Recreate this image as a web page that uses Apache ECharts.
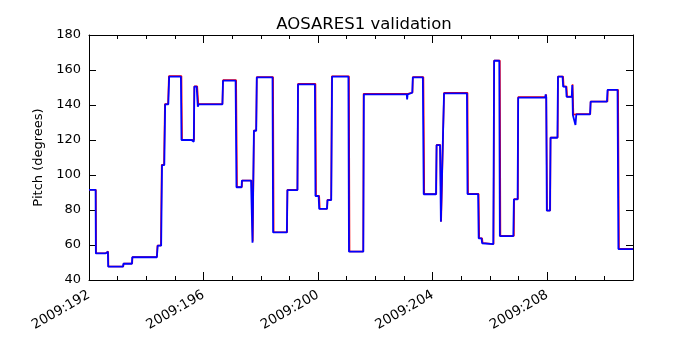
<!DOCTYPE html>
<html><head><meta charset="utf-8">
<script src="https://cdn.jsdelivr.net/npm/echarts@6/dist/echarts.min.js"></script>
<style>html,body{margin:0;padding:0;background:#fff}#c{width:700px;height:350px}</style>
</head><body><div id="c"></div>
<script>
const chartTitle = 'AOSARES1 validation';
const yAxisName = 'Pitch (degrees)';
const yearLabel = '2009';
const xMin = 192, xMax = 211, xMajor = 4;
const yMin = 40, yMax = 180, yStep = 20;

// blue: actual pitch [day of year, degrees]
const blueData = [
[192.00,91.5],[192.23,91.5],
[192.24,55.2],[192.58,55.2],[192.60,56.2],[192.66,56.2],
[192.67,47.6],[193.19,47.6],
[193.20,49.3],[193.50,49.3],
[193.51,53.0],[194.37,53.0],
[194.40,59.6],[194.52,59.6],
[194.55,105.7],[194.63,105.7],
[194.66,140.4],[194.77,140.4],
[194.80,156.2],[195.21,156.2],
[195.23,120.0],[195.58,120.0],[195.62,119.0],[195.66,119.0],
[195.68,150.5],[195.76,150.5],
[195.80,139.0],[195.83,140.4],[196.66,140.4],
[196.68,153.9],[197.12,153.9],
[197.15,93.0],[197.33,93.0],
[197.34,96.8],[197.66,96.8],
[197.71,61.3],
[197.76,125.3],[197.84,125.3],
[197.86,155.8],[198.41,155.8],
[198.43,67.2],[198.91,67.2],
[198.93,91.4],[199.28,91.4],
[199.30,151.8],[199.89,151.8],
[199.91,88.0],[200.02,88.0],
[200.04,80.6],[200.31,80.6],
[200.33,85.7],[200.46,85.7],
[200.49,156.2],[201.06,156.2],
[201.08,56.2],[201.58,56.2],
[201.60,146.1],[203.10,146.1],[203.11,143.2],[203.13,146.1],[203.16,147.0],[203.29,147.0],
[203.31,155.8],[203.66,155.8],
[203.69,89.0],[204.12,89.0],
[204.14,117.1],[204.26,117.1],
[204.29,73.3],[204.33,73.3],
[204.40,146.7],[205.20,146.7],
[205.22,89.1],[205.59,89.1],
[205.61,63.8],[205.71,63.8],
[205.73,61.0],[205.76,60.3],[206.12,60.5],
[206.15,165.3],[206.33,165.3],
[206.35,65.1],[206.82,65.1],
[206.84,86.1],[206.97,86.1],
[206.99,144.2],[207.93,144.2],[207.95,146.0],[207.97,144.5],
[207.99,79.6],[208.10,79.6],
[208.12,121.3],[208.36,121.3],
[208.38,156.2],[208.54,156.2],
[208.56,150.5],[208.66,150.5],
[208.68,144.7],[208.86,144.7],[208.88,151.4],[208.90,134.3],[208.96,134.3],[208.99,128.6],[209.02,134.7],[209.50,134.7],
[209.52,141.9],[210.09,141.9],
[210.11,148.6],[210.46,148.6],
[210.49,57.7],[211.00,57.7]
];

// red: commanded pitch [day of year, degrees]
const redData = [
[192.00,91.6],[192.24,91.6],
[192.25,55.3],[192.59,55.3],[192.61,56.3],[192.67,56.3],
[192.68,47.7],[193.20,47.7],
[193.21,49.4],[193.51,49.4],
[193.52,53.1],[194.37,53.1],
[194.39,59.7],[194.51,59.7],
[194.54,105.8],[194.62,105.8],
[194.65,140.5],[194.76,140.5],
[194.79,156.6],[195.23,156.6],
[195.25,120.1],[195.67,120.1],
[195.68,150.7],[195.78,150.7],
[195.82,140.5],[196.66,140.5],
[196.68,154.2],[197.14,154.2],
[197.17,93.1],[197.34,93.1],
[197.35,96.9],[197.68,96.9],
[197.72,62.0],
[197.76,125.4],[197.84,125.4],
[197.86,156.0],[198.43,156.0],
[198.45,67.3],[198.92,67.3],
[198.93,91.5],[199.28,91.5],
[199.30,152.1],[199.91,152.1],
[199.93,88.1],[200.04,88.1],
[200.06,80.7],[200.32,80.7],
[200.33,85.8],[200.46,85.8],
[200.48,156.4],[201.08,156.4],
[201.10,56.3],[201.58,56.3],
[201.59,146.4],[203.14,146.4],[203.17,147.2],[203.30,147.2],
[203.31,156.0],[203.68,156.0],
[203.71,89.1],[204.13,89.1],
[204.14,117.2],[204.27,117.2],
[204.30,73.4],[204.35,73.4],
[204.40,147.0],[205.22,147.0],
[205.24,89.2],[205.61,89.2],
[205.63,63.9],[205.73,63.9],
[205.75,61.1],[205.78,60.4],[206.13,60.6],
[206.15,165.4],[206.35,165.4],
[206.37,65.2],[206.84,65.2],
[206.85,86.2],[206.98,86.2],
[206.99,144.5],[207.95,144.5],[207.97,146.0],
[208.00,79.7],[208.11,79.7],
[208.12,121.4],[208.37,121.4],
[208.38,156.3],[208.56,156.3],
[208.58,150.6],[208.68,150.6],
[208.70,144.8],[208.87,144.8],[208.89,151.8],[208.92,134.4],[209.04,134.8],[209.51,134.8],
[209.52,142.0],[210.11,142.0],
[210.12,148.7],[210.48,148.7],
[210.51,57.8],[211.00,57.8]
];

const font = 'DejaVu Sans';
const chart = echarts.init(document.getElementById('c'), null, {renderer:'canvas'});
const tickStyle = {color:'#000', width:1};
chart.setOption({
  animation:false,
  backgroundColor:'#fff',
  title:{text:chartTitle, left:359, textAlign:'center', top:11,
    textStyle:{fontFamily:font, fontSize:16.5, fontWeight:'normal', color:'#000'}},
  grid:{left:89, right:67, top:35, bottom:70, containLabel:false},
  xAxis:[{
    type:'value', min:xMin, max:xMax, interval:xMajor, position:'bottom',
    axisLine:{show:true, onZero:false, lineStyle:{color:'#000', width:1}},
    axisTick:{show:true, inside:true, length:8, lineStyle:tickStyle},
    minorTick:{show:true, splitNumber:4, length:4, lineStyle:tickStyle},
    splitLine:{show:false},
    axisLabel:{rotate:30, margin:14, color:'#000', fontFamily:font, fontSize:13.5,
      formatter:v => (v <= 208 ? yearLabel + ':' + v : '')}
  },{
    type:'value', min:xMin, max:xMax, interval:xMajor, position:'top',
    axisLine:{show:true, onZero:false, lineStyle:{color:'#000', width:1}},
    axisTick:{show:true, inside:true, length:8, lineStyle:tickStyle},
    minorTick:{show:true, splitNumber:4, length:4, lineStyle:tickStyle},
    splitLine:{show:false}, axisLabel:{show:false}
  }],
  yAxis:[{
    type:'value', min:yMin, max:yMax, interval:yStep, position:'left',
    name:yAxisName, nameLocation:'middle', nameGap:38, nameRotate:90,
    nameTextStyle:{fontFamily:font, fontSize:13, color:'#000'},
    axisLine:{show:true, onZero:false, lineStyle:{color:'#000', width:1}},
    axisTick:{show:true, inside:true, length:7, lineStyle:tickStyle},
    splitLine:{show:false},
    axisLabel:{margin:8, color:'#000', fontFamily:font, fontSize:13}
  },{
    type:'value', min:yMin, max:yMax, interval:yStep, position:'right',
    axisLine:{show:true, onZero:false, lineStyle:{color:'#000', width:1}},
    axisTick:{show:true, inside:true, length:7, lineStyle:tickStyle},
    splitLine:{show:false}, axisLabel:{show:false}
  }],
  series:[
    {type:'line', data:redData, xAxisIndex:0, yAxisIndex:0, showSymbol:false, symbol:'none',
      lineStyle:{color:'#ff0000', width:1.6}, z:2, clip:true},
    {type:'line', data:blueData, xAxisIndex:0, yAxisIndex:0, showSymbol:false, symbol:'none',
      lineStyle:{color:'#0000ff', width:1.8}, z:3, clip:true}
  ]
});
</script></body></html>
